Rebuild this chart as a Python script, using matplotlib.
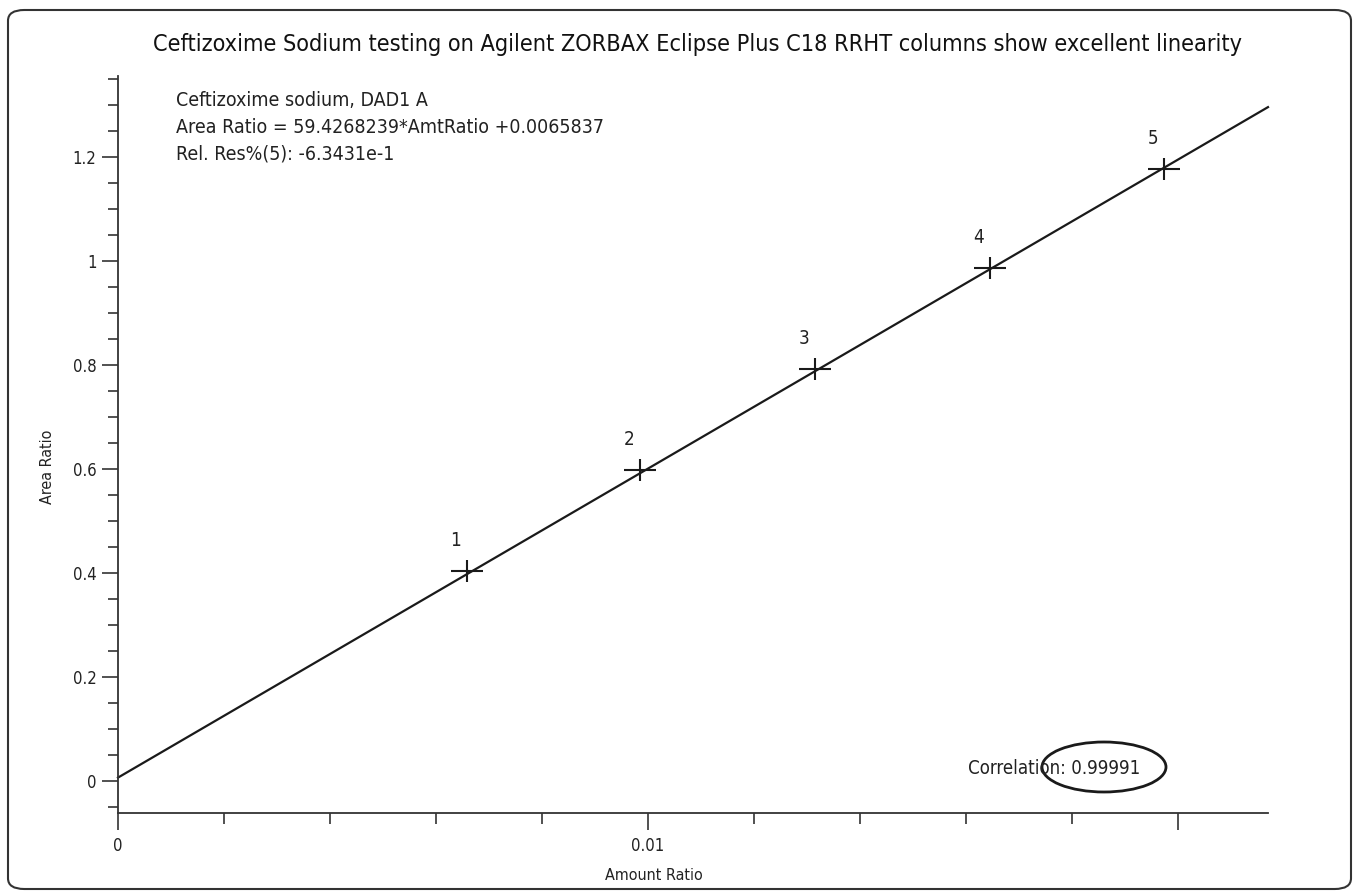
import matplotlib
matplotlib.use("Agg")
import matplotlib.pyplot as plt
from matplotlib.patches import Ellipse, FancyBboxPatch
from matplotlib.ticker import MultipleLocator, FixedLocator
import numpy as np

plt.rcParams['font.family'] = ['DejaVu Sans']
plt.rcParams['font.stretch'] = 'condensed'

# Data
amount_ratio = [0.00658, 0.00985, 0.01315, 0.01645, 0.01974]
area_ratio = [0.404, 0.598, 0.792, 0.987, 1.177]
point_labels = ["1", "2", "3", "4", "5"]
slope = 59.4268239
intercept = 0.0065837
x_ticks_major = [0, 0.01, 0.02]
x_tick_labels = ["0", "0.01", ""]
y_ticks_major = [0, 0.2, 0.4, 0.6, 0.8, 1.0, 1.2]
y_tick_labels = ["0", "0.2", "0.4", "0.6", "0.8", "1", "1.2"]

title = "Ceftizoxime Sodium testing on Agilent ZORBAX Eclipse Plus C18 RRHT columns show excellent linearity"
info_lines = ["Ceftizoxime sodium, DAD1 A",
              "Area Ratio = 59.4268239*AmtRatio +0.0065837",
              "Rel. Res%(5): -6.3431e-1"]
correlation_text = "Correlation: 0.99991"

W, H = 1354, 893
fig = plt.figure(figsize=(W / 100, H / 100), dpi=100)
ax = fig.add_axes([118 / W, 1 - 813 / H, (1268 - 118) / W, (813 - 76) / H])

xmin, xmax = 0.0, 0.0217
ymin, ymax = -0.0615, 1.356
ax.set_xlim(xmin, xmax)
ax.set_ylim(ymin, ymax)

axis_color = "#333333"
text_color = "#222222"
for s in ["top", "right"]:
    ax.spines[s].set_visible(False)
for s in ["left", "bottom"]:
    ax.spines[s].set_color(axis_color)
    ax.spines[s].set_linewidth(1.3)

# regression line
xl = np.array([xmin, xmax])
ax.plot(xl, slope * xl + intercept, color="#1a1a1a", lw=1.6, clip_on=False)

# markers: asymmetric crosses
ax.plot(amount_ratio, area_ratio, linestyle="none", marker="_", markersize=23,
        markeredgewidth=1.5, color="#1a1a1a")
ax.plot(amount_ratio, area_ratio, linestyle="none", marker="|", markersize=16,
        markeredgewidth=1.5, color="#1a1a1a")
for xv, yv, lab in zip(amount_ratio, area_ratio, point_labels):
    ax.annotate(lab, (xv, yv), xytext=(-8.0, 21.8), textcoords="offset points",
                ha="center", va="center", fontsize=13.5, color=text_color)

# ticks
ax.xaxis.set_major_locator(FixedLocator(x_ticks_major))
ax.set_xticklabels(x_tick_labels)
ax.xaxis.set_minor_locator(MultipleLocator(0.002))
ax.yaxis.set_major_locator(FixedLocator(y_ticks_major))
ax.set_yticklabels(y_tick_labels)
ax.yaxis.set_minor_locator(MultipleLocator(0.05))
ax.tick_params(axis="x", which="major", direction="out", length=12.5, width=1.2,
               color=axis_color, labelsize=12, pad=5, labelcolor=text_color)
ax.tick_params(axis="x", which="minor", direction="out", length=8, width=1.2,
               color=axis_color)
ax.tick_params(axis="y", which="major", direction="out", length=11.5, width=1.2,
               color=axis_color, labelsize=12, pad=4, labelcolor=text_color)
ax.tick_params(axis="y", which="minor", direction="out", length=7, width=1.2,
               color=axis_color)

ax.set_xlabel("Amount Ratio", fontsize=11.5, color=text_color, va="center")
ax.set_ylabel("Area Ratio", fontsize=11.5, color=text_color, va="center", ha="center")
ax.xaxis.set_label_coords((654 - 118) / (1268 - 118), -(875 - 813) / (813 - 76))
ax.yaxis.set_label_coords(-(118 - 47) / (1268 - 118), (813 - 467) / (813 - 76))

# info text
for i, line in enumerate(info_lines):
    fig.text(176 / W, 1 - (101 + 26.5 * i) / H, line, ha="left", va="center",
             fontsize=14, color=text_color)

fig.text(968 / W, 1 - 769 / H, correlation_text, ha="left", va="center",
         fontsize=13.4, color=text_color)
ell = Ellipse((1104 / W, 1 - 767 / H), 124 / W, 50 / H, transform=fig.transFigure,
              fill=False, edgecolor="#1a1a1a", lw=2)
fig.add_artist(ell)

fig.text(698 / W, 1 - 45 / H, title, ha="center", va="center", fontsize=16.8,
         color="#111111")

# rounded border
border = FancyBboxPatch((8 / W, 1 - 889 / H), (1351 - 8) / W, (889 - 10) / H,
                        boxstyle="round,pad=0,rounding_size=0.012",
                        transform=fig.transFigure, fill=False,
                        edgecolor="#333333", lw=1.5)
fig.add_artist(border)

fig.savefig("out.png", dpi=100)
